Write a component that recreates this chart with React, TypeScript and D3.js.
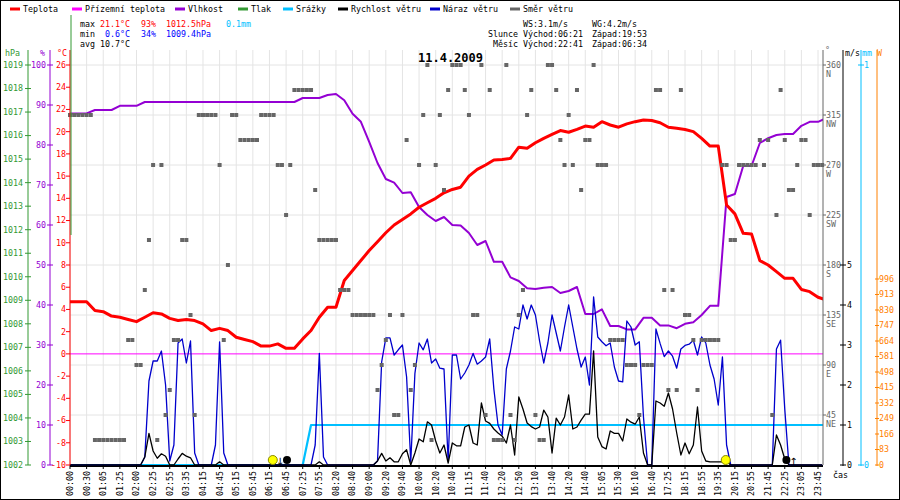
import * as d3 from "d3";

const FONT = "'DejaVu Sans Mono', 'Liberation Mono', monospace";
const FS = 8.3;

const PLOT_LEFT = 70;
const PLOT_RIGHT = 823;
const PLOT_TOP = 65;
const PLOT_BOTTOM = 465;
const AXIS_TOP = 50;

const TICK_TIMES = [
  "00:00", "00:30", "01:05", "01:25", "02:00", "02:25", "02:55", "03:35", "04:15", "04:45",
  "05:15", "05:45", "06:15", "06:45", "07:25", "07:55", "08:20", "08:40", "09:00", "09:20",
  "09:40", "10:00", "10:20", "10:40", "11:15", "11:40", "12:20", "12:50", "13:10", "13:40",
  "14:20", "14:40", "15:05", "15:30", "16:10", "16:40", "17:25", "18:15", "18:55", "19:35",
  "20:15", "20:55", "21:45", "22:25", "23:05", "23:45",
];

// sampled every half tick
const temperature = [
  4.7, 4.7, 4.7, 3.9, 3.8, 3.4, 3.3, 3.1, 2.9, 3.3,
  3.7, 3.6, 3.2, 3.0, 3.1, 3.0, 2.7, 2.1, 2.3, 2.1,
  1.5, 1.3, 1.1, 0.7, 0.7, 0.9, 0.5, 0.5, 1.35, 2.1,
  3.3, 4.2, 4.2, 6.6, 7.5, 8.4, 9.3, 10.1, 10.9, 11.6,
  12.1, 12.6, 13.2, 13.6, 14.0, 14.5, 14.8, 15.0, 16.0, 16.6,
  17.0, 17.45, 17.5, 17.6, 18.6, 18.5, 19.0, 19.4, 19.75, 20.1,
  19.95, 20.2, 20.5, 20.4, 20.9, 20.6, 20.4, 20.7, 20.9, 21.05,
  21.0, 20.8, 20.4, 20.3, 20.2, 20.0, 19.4, 18.7, 18.7, 13.4,
  12.6, 10.85, 10.8, 8.4, 8.0, 7.4, 6.8, 6.8, 5.8, 5.6,
  5.1, 4.85,
];
const humidity = [
  87.9, 87.9, 87.9, 88.75, 88.75, 88.75, 89.8, 89.8, 89.8, 90.75,
  90.75, 90.75, 90.75, 90.75, 90.75, 90.75, 90.75, 90.75, 90.75, 90.75,
  90.75, 90.75, 90.75, 90.75, 90.75, 90.75, 90.75, 90.75, 91.75, 91.75,
  91.75, 92.5, 92.75, 91.2, 87.8, 85.8, 80.8, 75.5, 71.5, 70.6,
  68, 68.2, 64.5, 62.5, 61, 62, 60, 59.9, 58, 55,
  56, 50.8, 50.8, 46.9, 46.0, 44.2, 44.0, 44.3, 44.5, 43.0,
  43.5, 44.5, 37.75, 37.75, 38.9, 34.75, 34.75, 33.9, 33.9, 36.8,
  36.8, 34.9, 34.9, 34.2, 35.3, 35.7, 37.5, 39.8, 39.8, 67,
  67.75, 74.75, 74.75, 80.5, 81.7, 82.5, 82.75, 82.75, 84.8, 85.8,
  85.8, 86.7,
];
const rainfall = [
  0, 0, 0, 0, 0, 0, 0, 0, 0, 0,
  0, 0, 0, 0, 0, 0, 0, 0, 0, 0,
  0, 0, 0, 0, 0, 0, 0, 0, 0, 0.1,
  0.1, 0.1, 0.1, 0.1, 0.1, 0.1, 0.1, 0.1, 0.1, 0.1,
  0.1, 0.1, 0.1, 0.1, 0.1, 0.1, 0.1, 0.1, 0.1, 0.1,
  0.1, 0.1, 0.1, 0.1, 0.1, 0.1, 0.1, 0.1, 0.1, 0.1,
  0.1, 0.1, 0.1, 0.1, 0.1, 0.1, 0.1, 0.1, 0.1, 0.1,
  0.1, 0.1, 0.1, 0.1, 0.1, 0.1, 0.1, 0.1, 0.1, 0.1,
  0.1, 0.1, 0.1, 0.1, 0.1, 0.1, 0.1, 0.1, 0.1, 0.1,
  0.1, 0.1,
];

// sampled every quarter tick
const windGust = [
  0, 0, 0, 0, 0, 0, 0, 0, 0, 0,
  0, 0, 0, 0, 0, 0, 0, 0, 0.2, 2.1,
  2.6, 2.6, 2.85, 2.0, 0.1, 0.5, 3.05, 3.15, 2.55, 3.1,
  0.3, 0, 0, 0, 0, 0.5, 3.08, 0.3, 0, 0,
  0, 0, 0, 0, 0, 0, 0, 0, 0, 0,
  0, 0, 0, 0, 0, 0, 0, 0, 0, 0.5,
  2.79, 0.2, 0, 0, 0, 0, 0, 0, 0, 0,
  0, 0, 0, 0, 0.1, 2.58, 3.18, 3.18, 2.75, 2.88,
  3.0, 2.2, 0.08, 2.29, 3.05, 2.88, 3.15, 2.55, 2.65, 2.42,
  2.4, 0.1, 2.75, 2.75, 2.15, 2.3, 2.5, 2.79, 2.52, 2.6,
  2.7, 3.15, 1.9, 1.0, 0.75, 2.4, 2.85, 3.45, 3.4, 4.0,
  3.65, 4.0, 3.75, 3.1, 2.55, 3.05, 3.75, 3.3, 2.85, 3.45,
  4.0, 3.45, 2.9, 2.45, 2.7, 2.0, 4.2, 3.2, 3.08, 2.98,
  3.05, 2.45, 2.1, 2.08, 3.6, 3.45, 3.0, 3.08, 1.2, 0,
  0, 3.4, 3.04, 2.71, 2.85, 2.72, 2.42, 2.9, 2.99, 3.02,
  3.12, 2.75, 3.2, 3.05, 2.5, 2.15, 1.5, 2.7, 0.5, 0,
  0, 0, 0, 0, 0, 0, 0, 0, 0, 0,
  2.9, 3.12, 1.4, 0, 0, 0, 0, 0, 0, 0,
  0, 0,
];
const windSpeed = [
  0, 0, 0, 0, 0, 0, 0, 0, 0, 0,
  0, 0, 0, 0, 0, 0, 0, 0, 0.2, 0.79,
  0.35, 0.17, 0.28, 0.22, 0, 0, 0.15, 0.29, 0.22, 0.18,
  0, 0, 0, 0, 0, 0, 0.08, 0, 0, 0,
  0, 0, 0, 0, 0, 0, 0, 0, 0, 0,
  0, 0, 0, 0, 0, 0, 0, 0, 0, 0,
  0.08, 0, 0, 0, 0, 0, 0, 0, 0, 0,
  0, 0, 0, 0, 0.1, 0.29, 0.1, 0.18, 0.08, 0.08,
  0.28, 0.38, 0, 0.3, 0.65, 0.58, 1.08, 1.0, 0.6, 0.3,
  0.5, 0.05, 0.55, 0.48, 0.48, 0.95, 1.0, 0.55, 0.5, 1.55,
  1.1, 1.04, 0.9, 0.8, 0.72, 0.55, 1.0, 0.25, 1.7, 1.4,
  1.05, 0.96, 0.9, 0.95, 1.37, 1.2, 0.3, 1.17, 1.0, 1.2,
  1.75, 0.9, 0.95, 1.12, 1.27, 1.27, 2.85, 0.7, 0.46, 0.4,
  0.85, 0.79, 0.79, 0.6, 1.15, 1.07, 1.02, 1.2, 0.3, 0,
  0, 1.6, 1.55, 1.47, 1.8, 1.4, 0.8, 0.25, 0.55, 0.28,
  0.5, 1.45, 0.35, 0.1, 0.08, 0.08, 0.08, 0.08, 0.08, 0,
  0, 0, 0, 0, 0, 0, 0, 0, 0, 0,
  0.75, 0.5, 0.15, 0, 0, 0, 0, 0, 0, 0,
  0, 0,
];
const windDirection = [
  315, 315, 315, 315, 315, 315, 22.5, 22.5, 22.5, 22.5,
  22.5, 22.5, 22.5, 22.5, 112.5, 112.5, 90, 90, 157.5, 202.5,
  270, 22.5, 270, 45, 67.5, 112.5, 112.5, 202.5, 202.5, 135,
  45, 315, 315, 315, 315, 315, 270, 112.5, 180, 315,
  315, 292.5, 292.5, 292.5, 292.5, 292.5, 315, 315, 315, 315,
  270, 270, 225, 270, 337.5, 337.5, 337.5, 337.5, 337.5, 247.5,
  202.5, 202.5, 202.5, 202.5, 202.5, 157.5, 157.5, 157.5, 135, 135,
  135, 135, 135, 135, 67.5, 90, 112.5, 135, 45, 45,
  135, 292.5, 67.5, 90, 270, 315, 360, 22.5, 270, 315,
  247.5, 337.5, 360, 360, 360, 337.5, 315, 135, 135, 360,
  45, 337.5, 22.5, 22.5, 22.5, 360, 45, 22.5, 135, 157.5,
  315, 337.5, 45, 22.5, 22.5, 360, 360, 337.5, 292.5, 270,
  315, 270, 337.5, 247.5, 292.5, 292.5, 360, 270, 270, 270,
  112.5, 112.5, 112.5, 112.5, 90, 90, 90, 45, 90, 90,
  90, 337.5, 337.5, 157.5, 67.5, 157.5, 67.5, 337.5, 135, 135,
  112.5, 67.5, 112.5, 112.5, 112.5, 112.5, 112.5, 270, 270, 202.5,
  202.5, 270, 270, 270, 270, 270, 292.5, 270, 292.5, 45,
  225, 337.5, 292.5, 247.5, 247.5, 270, 292.5, 292.5, 225, 270,
  270, 270,
];

const LEGEND_NAMES = ["Teplota", "Přízemní teplota", "Vlhkost", "Tlak", "Srážky", "Rychlost větru", "Náraz větru", "Směr větru"];
const LEGEND_COLORS = ["#ff0000", "#ff00ff", "#9400d3", "#339933", "#00bfff", "#000000", "#0000cc", "#666666"];
const LEGEND_X = [10, 72, 175, 238, 283, 338, 430, 510];

const DIR_TICKS = [360, 315, 270, 225, 180, 135, 90, 45];
const DIR_NAMES = ["N", "NW", "W", "SW", "S", "SE", "E", "NE"];

const SUN_RISE = "06:21";
const SUN_SET = "19:53";
const MOON_RISE = "22:41";
const MOON_SET = "06:34";

const toMinutes = (t: string) => +t.slice(0, 2) * 60 + +t.slice(3);

export default function App() {
  const x = d3.scaleLinear().domain([0, TICK_TIMES.length - 1]).range([70, 818]);
  const yTemp = d3.scaleLinear().domain([-10, 26]).range([PLOT_BOTTOM, PLOT_TOP]);
  const yHum = d3.scaleLinear().domain([0, 100]).range([PLOT_BOTTOM, PLOT_TOP]);
  const yPress = d3.scaleLinear().domain([1002, 1019]).range([PLOT_BOTTOM, PLOT_TOP]);
  const yDir = d3.scaleLinear().domain([0, 360]).range([PLOT_BOTTOM, PLOT_TOP]);
  const yWind = d3.scaleLinear().domain([0, 5]).range([PLOT_BOTTOM, 265]);
  const yRain = d3.scaleLinear().domain([0, 1]).range([PLOT_BOTTOM, PLOT_TOP]);
  const ySolar = d3.scaleLinear().domain([0, 996]).range([PLOT_BOTTOM, 279]);

  const timeX = d3
    .scaleLinear()
    .domain(TICK_TIMES.map(toMinutes))
    .range(TICK_TIMES.map((_, i) => x(i)));

  const path = (data: number[], step: number, y: d3.ScaleLinear<number, number>) =>
    d3
      .line<number>()
      .x((_, i) => x(i * step))
      .y((d) => y(d))(data) ?? "";

  const sunRiseX = timeX(toMinutes(SUN_RISE));
  const sunSetX = timeX(toMinutes(SUN_SET));
  const moonSetX = timeX(toMinutes(MOON_SET));
  const moonRiseX = timeX(toMinutes(MOON_RISE));

  const hpaTicks = d3.range(1002, 1020);
  const humTicks = d3.range(0, 101, 10);
  const tempTicks = d3.range(-10, 27, 2);
  const windTicks = d3.range(0, 6);
  const solarTicks = d3.range(0, 997, 83);

  return (
    <svg
      width={900}
      height={500}
      style={{ position: "absolute", left: 0, top: 0 }}
      fontFamily={FONT}
      fontSize={FS}
    >
      <defs>
        <clipPath id="plot-clip">
          <rect x={PLOT_LEFT} y={0} width={PLOT_RIGHT - PLOT_LEFT} height={PLOT_BOTTOM + 2} />
        </clipPath>
      </defs>
      <rect x={0.5} y={0.5} width={899} height={499} fill="#fff" stroke="#000" />

      {/* legend */}
      {LEGEND_NAMES.map((name, i) => (
        <g key={name}>
          <line x1={LEGEND_X[i]} x2={LEGEND_X[i] + 10} y1={9} y2={9} stroke={LEGEND_COLORS[i]} strokeWidth={3} />
          <text x={LEGEND_X[i] + 13} y={12}>{name}</text>
        </g>
      ))}

      {/* stats */}
      <text x={80} y={27}>max</text>
      <text x={100} y={27} fill="#ff0000">21.1°C</text>
      <text x={141} y={27} fill="#ff0000">93%</text>
      <text x={166} y={27} fill="#ff0000">1012.5hPa</text>
      <text x={226} y={27} fill="#00bfff">0.1mm</text>
      <text x={80} y={37}>min</text>
      <text x={105} y={37} fill="#0000ff">0.6°C</text>
      <text x={141} y={37} fill="#0000ff">34%</text>
      <text x={166} y={37} fill="#0000ff">1009.4hPa</text>
      <text x={80} y={47}>avg 10.7°C</text>
      <text x={523} y={27}>WS:3.1m/s</text>
      <text x={592} y={27}>WG:4.2m/s</text>
      <text x={518} y={37} textAnchor="end">Slunce</text>
      <text x={523} y={37}>Východ:{SUN_RISE}</text>
      <text x={592} y={37}>Západ:{SUN_SET}</text>
      <text x={518} y={47} textAnchor="end">Měsíc</text>
      <text x={523} y={47}>Východ:{MOON_RISE}</text>
      <text x={592} y={47}>Západ:{MOON_SET}</text>

      {/* grid */}
      {TICK_TIMES.map((t, i) => (
        <line key={t} x1={x(i)} x2={x(i)} y1={AXIS_TOP} y2={PLOT_BOTTOM} stroke="#e4e4e4" />
      ))}
      {DIR_TICKS.map((d) => (
        <line key={d} x1={PLOT_LEFT} x2={PLOT_RIGHT} y1={yDir(d)} y2={yDir(d)} stroke="#e4e4e4" />
      ))}

      <text x={418} y={62} fontSize={12} fontWeight="bold">11.4.2009</text>

      {/* ground temperature at 0 °C */}
      <line x1={PLOT_LEFT} x2={PLOT_RIGHT} y1={yTemp(0)} y2={yTemp(0)} stroke="#ff00ff" strokeWidth={1} />

      <g clipPath="url(#plot-clip)" fill="none" strokeLinejoin="round">
        <path d={path(rainfall, 0.5, yRain)} stroke="#00bfff" strokeWidth={2.2} />
        <line x1={PLOT_LEFT} x2={PLOT_RIGHT} y1={PLOT_BOTTOM + 1.2} y2={PLOT_BOTTOM + 1.2} stroke="#000" strokeWidth={2.2} />
        <path d={path(humidity, 0.5, yHum)} stroke="#9400d3" strokeWidth={2} />
        <path d={path(temperature, 0.5, yTemp)} stroke="#ff0000" strokeWidth={3} />
        <path d={path(windGust, 0.25, yWind)} stroke="#0000cc" strokeWidth={1.3} />
        <path d={path(windSpeed, 0.25, yWind)} stroke="#000" strokeWidth={1.3} />
      </g>

      {windDirection.map((d, i) => (
        <rect key={i} x={x(i * 0.25) - 2} y={yDir(d) - 2} width={4} height={4} fill="#666" />
      ))}

      {/* sun & moon */}
      <circle cx={sunRiseX} cy={460} r={4.5} fill="#ffff00" stroke="#888800" />
      <circle cx={sunSetX} cy={460} r={4.5} fill="#ffff00" stroke="#888800" />
      <text x={moonSetX} y={465} textAnchor="middle" fontFamily="DejaVu Sans" fontSize={10}>↓</text>
      <circle cx={moonSetX + 7} cy={460} r={4} fill="#000" />
      <text x={moonRiseX + 2} y={465} textAnchor="middle" fontFamily="DejaVu Sans" fontSize={10}>↑</text>
      <circle cx={moonRiseX - 5} cy={460} r={4} fill="#000" />

      {/* x axis ticks & labels */}
      {TICK_TIMES.map((t, i) => (
        <g key={t}>
          <line x1={x(i)} x2={x(i)} y1={PLOT_BOTTOM} y2={PLOT_BOTTOM + 4} stroke="#000" />
          <text transform={`translate(${x(i)},${PLOT_BOTTOM + 6}) rotate(-90)`} textAnchor="end" dy="0.35em">
            {t}
          </text>
        </g>
      ))}
      <text x={833} y={478}>čas</text>

      {/* left axes */}
      <text x={5} y={56} fill="#339933">hPa</text>
      <line x1={28} x2={28} y1={AXIS_TOP} y2={PLOT_BOTTOM} stroke="#339933" />
      {hpaTicks.map((v) => (
        <g key={v}>
          <line x1={25} x2={31} y1={yPress(v)} y2={yPress(v)} stroke="#339933" />
          <text x={23} y={yPress(v)} dy="0.35em" textAnchor="end" fill="#339933">{v}</text>
        </g>
      ))}
      <text x={40} y={56} fill="#9400d3">%</text>
      <line x1={50} x2={50} y1={AXIS_TOP} y2={PLOT_BOTTOM} stroke="#9400d3" />
      {humTicks.map((v) => (
        <g key={v}>
          <line x1={47} x2={53} y1={yHum(v)} y2={yHum(v)} stroke="#9400d3" />
          <text x={46} y={yHum(v)} dy="0.35em" textAnchor="end" fill="#9400d3">{v}</text>
        </g>
      ))}
      <text x={57} y={56} fill="#ff0000">°C</text>
      <line x1={PLOT_LEFT} x2={PLOT_LEFT} y1={AXIS_TOP} y2={PLOT_BOTTOM} stroke="#ff0000" />
      <line x1={PLOT_LEFT + 1} x2={PLOT_LEFT + 1} y1={15} y2={235} stroke="#339933" />
      {tempTicks.map((v) => (
        <g key={v}>
          <line x1={66} x2={PLOT_LEFT} y1={yTemp(v)} y2={yTemp(v)} stroke="#ff0000" />
          <text x={66} y={yTemp(v)} dy="0.35em" textAnchor="end" fill="#ff0000">{v}</text>
        </g>
      ))}

      {/* right axes */}
      <text x={825} y={53} fill="#666">°</text>
      <line x1={PLOT_RIGHT} x2={PLOT_RIGHT} y1={AXIS_TOP} y2={PLOT_BOTTOM} stroke="#666" />
      {DIR_TICKS.map((d, i) => (
        <g key={d} fill="#666">
          <line x1={PLOT_RIGHT} x2={PLOT_RIGHT + 3} y1={yDir(d)} y2={yDir(d)} stroke="#666" />
          <text x={PLOT_RIGHT + 3} y={yDir(d)} dy="0.35em">{d}</text>
          <text x={PLOT_RIGHT + 3} y={yDir(d) + 9} dy="0.35em">{DIR_NAMES[i]}</text>
        </g>
      ))}

      <text x={845} y={56}>m/s</text>
      <line x1={843} x2={843} y1={AXIS_TOP} y2={PLOT_BOTTOM + 1} stroke="#000" />
      {windTicks.map((v) => (
        <g key={v}>
          <line x1={840} x2={846} y1={yWind(v)} y2={yWind(v)} stroke="#000" />
          <text x={847} y={yWind(v)} dy="0.35em">{v}</text>
        </g>
      ))}

      <text x={862} y={56} fill="#00bfff">mm</text>
      <line x1={861} x2={861} y1={AXIS_TOP} y2={PLOT_BOTTOM + 1} stroke="#00bfff" />
      {[0, 1].map((v) => (
        <g key={v}>
          <line x1={858} x2={864} y1={yRain(v)} y2={yRain(v)} stroke="#00bfff" />
          <text x={864} y={yRain(v)} dy="0.35em" fill="#00bfff">{v}</text>
        </g>
      ))}

      <text x={877} y={56} fill="#ff8000">W</text>
      <line x1={877} x2={877} y1={AXIS_TOP} y2={PLOT_BOTTOM + 1} stroke="#ff8000" />
      {solarTicks.map((v) => (
        <g key={v}>
          <line x1={875} x2={879} y1={ySolar(v)} y2={ySolar(v)} stroke="#ff8000" />
          <text x={879} y={ySolar(v)} dy="0.35em" fill="#ff8000">{v}</text>
        </g>
      ))}
    </svg>
  );
}
